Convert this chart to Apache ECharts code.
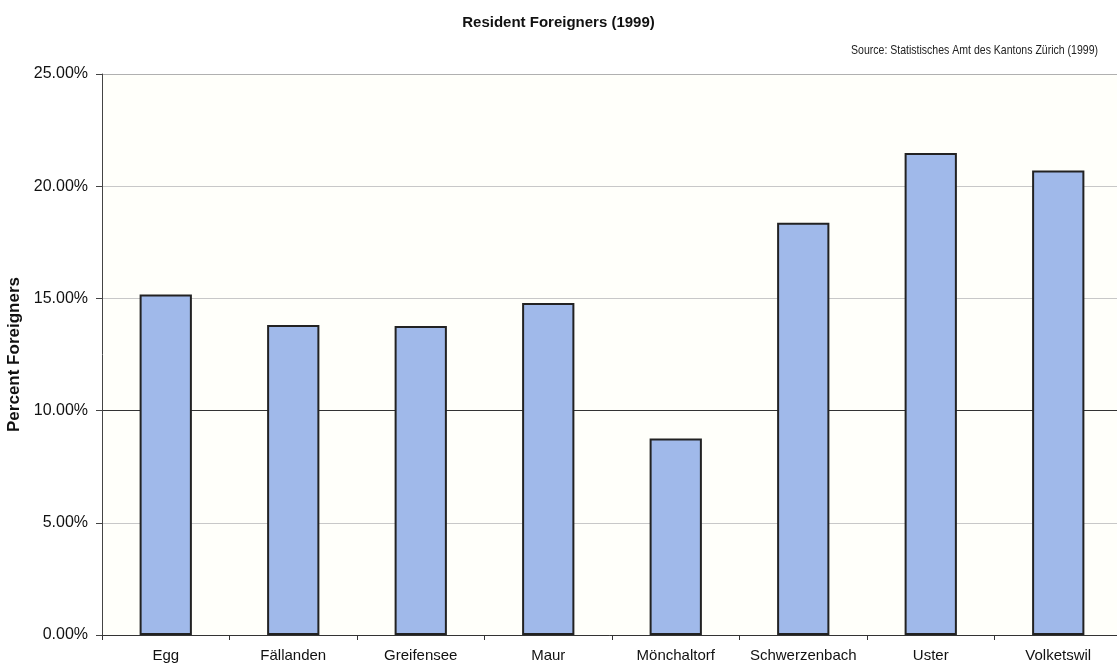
<!DOCTYPE html>
<html>
<head>
<meta charset="utf-8">
<script src="https://cdn.jsdelivr.net/npm/echarts@6/dist/echarts.min.js"></script>
<style>
  html, body { margin: 0; padding: 0; background: #ffffff; }
  #chart { width: 1117px; height: 670px; }
</style>
</head>
<body>
<div id="chart"></div>
<script>
// Municipalities in the district
const municipalities = ['Egg', 'Fällanden', 'Greifensee', 'Maur', 'Mönchaltorf', 'Schwerzenbach', 'Uster', 'Volketswil'];
// Share of resident foreigners, in percent
const foreignerShare = [15.17, 13.82, 13.77, 14.8, 8.76, 18.37, 21.48, 20.7];
// Y axis range and step, in percent
const yMin = 0;
const yMax = 25;
const yStep = 5;

const chart = echarts.init(document.getElementById('chart'));
const font = 'Liberation Sans, Arial, sans-serif';

chart.setOption({
  animation: false,
  backgroundColor: '#ffffff',
  title: {
    text: 'Resident Foreigners (1999)',
    left: 'center',
    top: 10,
    textStyle: { fontFamily: font, fontSize: 15, fontWeight: 'bold', color: '#111' }
  },
  // Source note, set in a condensed width
  graphic: [{
    type: 'text',
    right: 19,
    top: 43,
    scaleX: 0.78,
    originX: 0,
    style: {
      text: 'Source: Statistisches Amt des Kantons Zürich (1999)',
      fontFamily: font,
      fontSize: 13.5,
      fill: '#222'
    }
  }],
  grid: {
    left: 102,
    top: 74,
    right: -5,
    bottom: 35,
    outerBoundsMode: 'none',
    show: true,
    backgroundColor: '#fffffa',
    borderWidth: 0
  },
  xAxis: {
    type: 'category',
    data: municipalities,
    axisLine: { lineStyle: { color: '#333', width: 1 } },
    axisTick: { show: true, interval: 0, length: 5, lineStyle: { color: '#333' } },
    axisLabel: { interval: 0, fontFamily: font, fontSize: 15, color: '#111', margin: 13 }
  },
  yAxis: {
    type: 'value',
    min: yMin,
    max: yMax,
    interval: yStep,
    name: 'Percent Foreigners',
    nameLocation: 'middle',
    nameGap: 75,
    nameTextStyle: { fontFamily: font, fontSize: 17, fontWeight: 'bold', color: '#111' },
    axisLine: { show: true, lineStyle: { color: '#444', width: 1 } },
    axisTick: { show: true, length: 6, lineStyle: { color: '#444' } },
    axisLabel: {
      fontFamily: font,
      fontSize: 16,
      color: '#111',
      margin: 14,
      formatter: v => v.toFixed(2) + '%'
    },
    splitLine: {
      show: true,
      lineStyle: { color: ['#c8c8c8', '#c8c8c8', '#333333', '#c8c8c8', '#c8c8c8', '#b0b0b0'], width: 1 }
    }
  },
  series: [{
    type: 'bar',
    data: foreignerShare,
    barWidth: '41%',
    itemStyle: {
      color: '#a0b9ea',
      borderColor: '#222',
      borderWidth: 2
    }
  }]
});
</script>
</body>
</html>
